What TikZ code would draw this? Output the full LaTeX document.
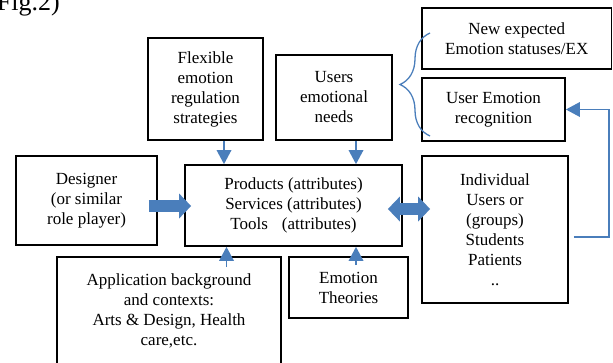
\documentclass[tikz,border=0pt]{standalone}
\usepackage{fontspec}
\setmainfont{Liberation Serif}
\usetikzlibrary{arrows.meta,calc,decorations.pathreplacing}
\definecolor{linkblue}{RGB}{74,126,187}
\tikzset{
  fathead/.tip={Triangle[width=25pt,length=12pt,line width=0pt]},
  thinhead/.tip={Triangle[width=15pt,length=14pt,line width=0pt]}
}
\begin{document}
\begin{tikzpicture}[x=1pt,y=-1pt,
  box/.style={draw=black, line width=1.8pt, fill=white, inner sep=0pt,
              font=\fontsize{17}{20}\selectfont, align=center},
  link/.style={draw=linkblue, line width=1.3pt},
  linkhead/.style={-{thinhead}},
  blockarrow/.style={draw=linkblue, line width=12pt}
]
\useasboundingbox[fill=white] (0,0) rectangle (613,362);

% caption fragment in the corner
\node[anchor=base east, inner sep=0pt, font=\fontsize{26}{30}\selectfont] (fig) at (60,10) {Fig.2)};

% boxes
\node[box, minimum width=115, minimum height=102] (flex) at (205.5,89)
  {Flexible\\emotion\\regulation\\strategies};
\node[box, minimum width=116, minimum height=85] (needs) at (334,97.5)
  {Users\\emotional\\needs};
\node[box, minimum width=189.5, minimum height=61] (expected) at (516.75,38.5)
  {New expected\\Emotion statuses/EX};
\node[box, minimum width=143, minimum height=63] (recog) at (493.5,109.5)
  {User Emotion\\recognition};
\node[box, minimum width=141, minimum height=89] (designer) at (86.5,200.5)
  {Designer\\(or similar\\role player)};
\node[box, minimum width=217, minimum height=81] (centre) at (293.5,205.5)
  {Products (attributes)\\Services (attributes)\\Tools\hspace{14pt}(attributes)};
\node[box, minimum width=146, minimum height=147] (users) at (495,229.5)
  {Individual\\Users or\\(groups)\\Students\\Patients\\..};
\node[box, minimum width=224, minimum height=107] (context) at (169,310.5)
  {Application background\\and contexts:\\Arts \& Design, Health\\care,etc.};
\node[box, minimum width=119, minimum height=61] (theories) at (348.5,287.5)
  {Emotion\\Theories};

% thin arrows into the central box
\coordinate (f1) at ($(flex.south)+(18.5,0)$);
\draw[link,linkhead] (f1) -- (f1 |- centre.north);
\coordinate (n1) at ($(needs.south)+(22,0)$);
\draw[link,linkhead] (n1) -- (n1 |- centre.north);
\coordinate (c1) at ($(context.north)+(57.5,11)$);
\draw[link,linkhead] (c1) -- (c1 |- centre.south);
\coordinate (t1) at ($(theories.north)+(7.5,9)$);
\draw[link,linkhead] (t1) -- (t1 |- centre.south);

% feedback from the users to emotion recognition
\coordinate (u1) at ($(users.east)+(5,7.5)$);
\draw[link,linkhead] (u1) -- ++(35,0) |- (recog.east);

% brace grouping the two outcome boxes
\draw[link, decorate, decoration={brace, amplitude=30pt}] (430,136) -- (430,33);

% block arrows
\coordinate (d1) at ($(designer.east)+(-9,5.5)$);
\coordinate (d2) at ($(centre.west)+(7,0.5)$);
\draw[blockarrow, -{fathead}] (d1) -- (d2);
\coordinate (e1) at ($(centre.east)+(-15,3.5)$);
\coordinate (e2) at ($(users.west)+(9,0)$);
\draw[blockarrow, {fathead}-{fathead}] (e1) -- (e1 -| e2);
\end{tikzpicture}
\end{document}
